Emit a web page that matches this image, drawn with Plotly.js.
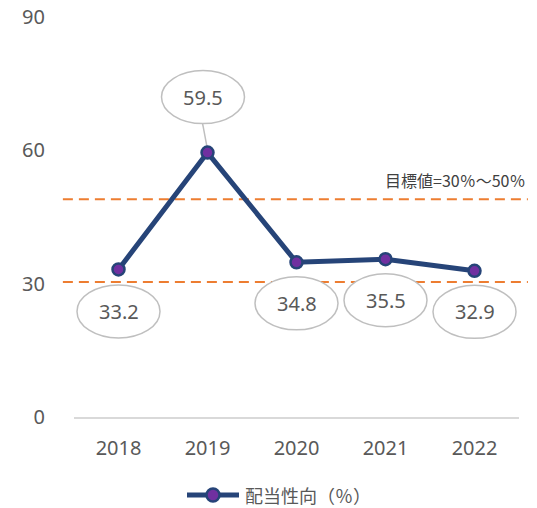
<!DOCTYPE html>
<html>
<head>
<meta charset="utf-8">
<script src="https://cdn.plot.ly/plotly-3.0.1.min.js"></script>
<style>html,body{margin:0;padding:0;background:#fff;}#chart{width:537px;height:508px;}</style>
</head>
<body>
<div id="chart"></div>
<script>
const years = ['2018', '2019', '2020', '2021', '2022'];
const payoutRatio = [33.2, 59.5, 34.8, 35.5, 32.9];
const seriesName = '配当性向（％）';
const targetLow = 30.4;
const targetHigh = 49;
const targetLabel = '目標値=30％～50％';
const yTicks = [0, 30, 60, 90];

// label placement (pixel offsets from each point)
const labelDx = [0, -4.5, 0, 0, 0];
const labelDy = [-42, 55.5, -41, -41, -41];

const W = 537, H = 508;
const M = {l: 74, r: 18, t: 17, b: 91};
const plotW = W - M.l - M.r, plotH = H - M.t - M.b;
const yRange = [0, 90];
const pxPerX = plotW / years.length;                 // px per category
const pxPerY = plotH / (yRange[1] - yRange[0]);      // px per y unit
const px2paperX = p => (p - M.l) / plotW;
const px2paperY = p => (H - M.b - p) / plotH;

const lineColor = '#264478', markerColor = '#7030A0';
const grey = '#595959';
const numFont = '"Noto Sans", "Open Sans", sans-serif';
const cjkFont = '"Noto Sans CJK JP", "Noto Sans CJK SC", sans-serif';

const shapes = [
  {type: 'line', xref: 'paper', yref: 'y', x0: -0.025, x1: 1.02, y0: targetLow, y1: targetLow,
   line: {color: '#ED7D31', width: 2, dash: '10px,6px'}, layer: 'below'},
  {type: 'line', xref: 'paper', yref: 'y', x0: -0.025, x1: 1.02, y0: targetHigh, y1: targetHigh,
   line: {color: '#ED7D31', width: 2, dash: '10px,6px'}, layer: 'below'}
];
const annotations = [
  {xref: 'paper', yref: 'y', x: 1.018, y: targetHigh, yshift: 19, xanchor: 'right', yanchor: 'middle',
   showarrow: false, text: targetLabel, font: {family: cjkFont, size: 16, color: '#404040'}}
];
payoutRatio.forEach((v, i) => {
  const cx = i + labelDx[i] / pxPerX;
  const cy = v + labelDy[i] / pxPerY;
  const hw = 41.5 / pxPerX, hh = 26.5 / pxPerY;
  shapes.push({type: 'circle', xref: 'x', yref: 'y',
    x0: cx - hw, x1: cx + hw, y0: cy - hh, y1: cy + hh,
    fillcolor: '#ffffff', line: {color: '#BFBFBF', width: 1.5}, layer: 'above'});
  annotations.push({xref: 'x', yref: 'y', x: i, y: v, xshift: labelDx[i], yshift: labelDy[i],
    showarrow: false, text: v.toFixed(1), xanchor: 'center', yanchor: 'middle',
    font: {family: numFont, size: 20, color: grey}});
});
// leader line for the 2019 label
shapes.push({type: 'line', xref: 'x', yref: 'y',
  x0: 1 - 5 / pxPerX, x1: 1, y0: payoutRatio[1] + 29.5 / pxPerY, y1: payoutRatio[1] + 3 / pxPerY,
  line: {color: '#BFBFBF', width: 1.5}, layer: 'below'});

// legend (drawn below the plot)
const legY = 495, legX0 = 187, legX1 = 239, legMx = 213, legR = 6.5;
shapes.push({type: 'line', xref: 'paper', yref: 'paper',
  x0: px2paperX(legX0), x1: px2paperX(legX1), y0: px2paperY(legY), y1: px2paperY(legY),
  line: {color: lineColor, width: 5}});
shapes.push({type: 'circle', xref: 'paper', yref: 'paper',
  x0: px2paperX(legMx - legR), x1: px2paperX(legMx + legR),
  y0: px2paperY(legY + legR), y1: px2paperY(legY - legR),
  fillcolor: markerColor, line: {color: lineColor, width: 2.5}});
annotations.push({xref: 'paper', yref: 'paper', x: px2paperX(244), y: px2paperY(legY),
  xanchor: 'left', yanchor: 'middle', showarrow: false, text: seriesName, borderpad: 0,
  font: {family: cjkFont, size: 18, color: grey}});

const trace = {
  x: years, y: payoutRatio, type: 'scatter', mode: 'lines+markers', name: seriesName,
  line: {color: lineColor, width: 5},
  marker: {color: markerColor, size: 12, line: {color: lineColor, width: 2.5}},
  hoverinfo: 'skip'
};

const layout = {
  width: W, height: H,
  margin: {l: M.l, r: M.r, t: M.t, b: M.b, pad: 0, autoexpand: false},
  paper_bgcolor: '#ffffff', plot_bgcolor: '#ffffff',
  showlegend: false,
  xaxis: {type: 'category', range: [-0.5, 4.5], showgrid: false, zeroline: false,
    showline: true, linecolor: '#D9D9D9', linewidth: 2, ticks: '',
    ticklabelstandoff: 12, tickfont: {family: numFont, size: 20, color: grey}, fixedrange: true},
  yaxis: {range: yRange, tickvals: yTicks, showgrid: false, zeroline: false, showline: false,
    ticks: '', ticklabelstandoff: 28, tickfont: {family: numFont, size: 20, color: grey}, fixedrange: true},
  shapes: shapes,
  annotations: annotations
};

Plotly.newPlot('chart', [trace], layout, {displayModeBar: false, staticPlot: true});
</script>
</body>
</html>
